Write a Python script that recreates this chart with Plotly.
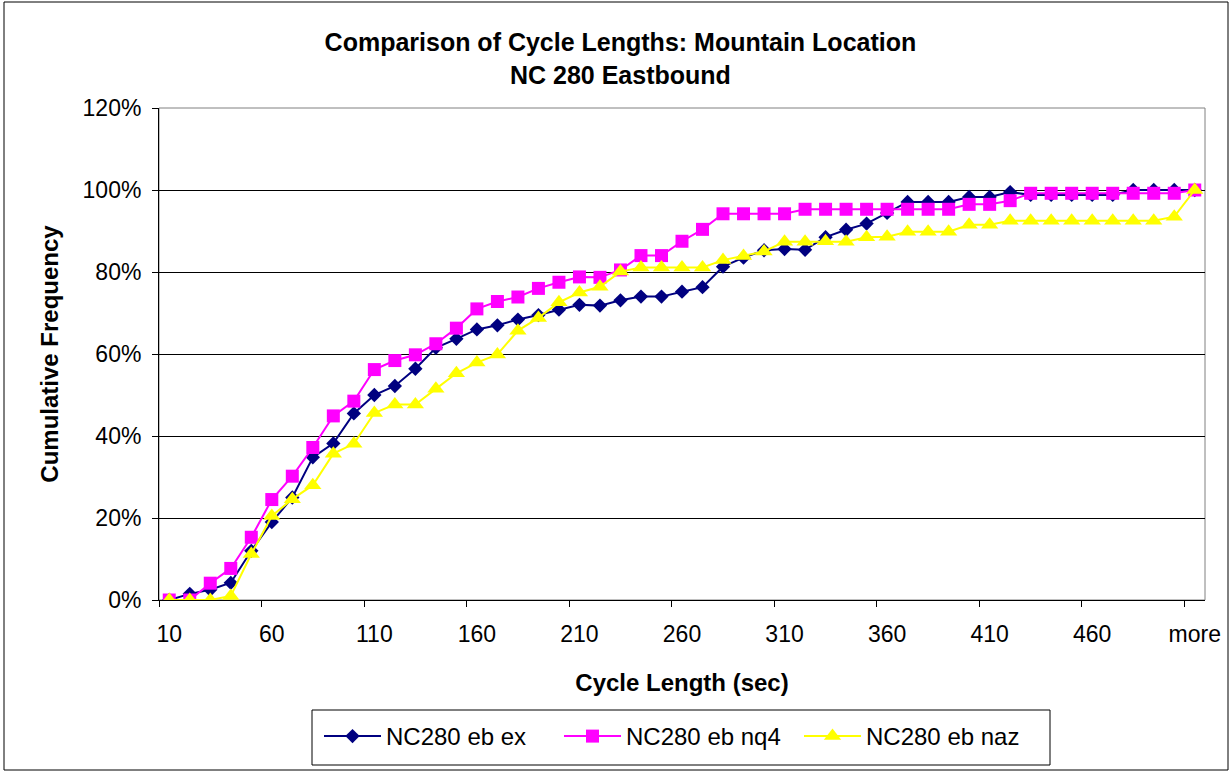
import plotly.graph_objects as go

categories = ["10", "20", "30", "40", "50", "60", "70", "80", "90", "100",
              "110", "120", "130", "140", "150", "160", "170", "180", "190", "200",
              "210", "220", "230", "240", "250", "260", "270", "280", "290", "300",
              "310", "320", "330", "340", "350", "360", "370", "380", "390", "400",
              "410", "420", "430", "440", "450", "460", "470", "480", "490", "500",
              "more"]

ex = [0, 1.5, 2.5, 4.2, 12, 19, 25, 34.8, 38.2, 45.5,
      50, 52.2, 56.4, 61.5, 63.7, 66, 67, 68.4, 69.5, 70.8,
      72, 71.8, 73.1, 74, 74, 75.2, 76.3, 81.3, 83.5, 85.3,
      85.6, 85.4, 88.5, 90.3, 91.8, 94.4, 97.1, 97.1, 97.1, 98.3,
      98.3, 99.5, 98.8, 98.8, 98.8, 98.8, 98.8, 100, 100, 100,
      100]

nq4 = [0, 0, 4.1, 7.7, 15.3, 24.5, 30.2, 37.2, 44.9, 48.5,
       56.2, 58.4, 59.8, 62.5, 66.3, 71, 72.8, 73.9, 76, 77.5,
       78.8, 78.7, 80.5, 84, 84, 87.5, 90.4, 94.2, 94.2, 94.2,
       94.2, 95.3, 95.3, 95.3, 95.3, 95.3, 95.3, 95.3, 95.3, 96.5,
       96.5, 97.4, 99.2, 99.2, 99.2, 99.2, 99.2, 99.2, 99.2, 99.2,
       100]

naz = [0, 0, 0, 1, 11.2, 20.5, 24.6, 28, 35.7, 38.1,
       45.6, 47.7, 47.7, 51.5, 55.3, 57.9, 59.9, 65.7, 68.8, 72.6,
       75, 76.4, 80.1, 81.1, 81.1, 81.1, 81.1, 82.9, 83.9, 85,
       87.4, 87.4, 87.5, 87.4, 88.5, 88.6, 89.8, 89.8, 89.8, 91.5,
       91.5, 92.5, 92.5, 92.5, 92.5, 92.5, 92.5, 92.5, 92.5, 93.5,
       100]

series_names = ["NC280 eb ex", "NC280 eb nq4", "NC280 eb naz"]
y_ticks = [0, 0.2, 0.4, 0.6, 0.8, 1.0, 1.2]

FONT = "Arial, Liberation Sans, sans-serif"

fig = go.Figure()
fig.add_trace(go.Scatter(
    x=categories, y=[v / 100 for v in ex], name=series_names[0], mode="lines+markers",
    line=dict(color="#000080", width=2),
    marker=dict(symbol="diamond", size=11, color="#000080", line=dict(width=0))))
fig.add_trace(go.Scatter(
    x=categories, y=[v / 100 for v in nq4], name=series_names[1], mode="lines+markers",
    line=dict(color="#FF00FF", width=2),
    marker=dict(symbol="square", size=13, color="#FF00FF", line=dict(width=0))))
fig.add_trace(go.Scatter(
    x=categories, y=[v / 100 for v in naz], name=series_names[2], mode="lines+markers",
    line=dict(color="#FFFF00", width=2),
    marker=dict(symbol="triangle-up", size=15, color="#FFFF00", line=dict(width=0))))

W, H = 1231, 772
L, R, T, B = 159, 26, 108, 172
pw, ph = W - L - R, H - T - B

def px(xp):
    return (xp - L) / pw

def py(yp):
    return (H - B - yp) / ph

fig.update_layout(
    width=W, height=H,
    margin=dict(l=L, r=R, t=T, b=B, autoexpand=False),
    paper_bgcolor="white", plot_bgcolor="white",
    font=dict(family=FONT, color="black", size=23),
    title=dict(text="<b>Comparison of Cycle Lengths: Mountain Location<br>NC 280 Eastbound</b>",
               font=dict(family=FONT, size=25, color="black"),
               x=0.504, xref="container", xanchor="center",
               y=1 - 51 / H, yref="container", yanchor="top"),
    xaxis=dict(type="category", categoryorder="array", categoryarray=categories,
               range=[-0.5, len(categories) - 0.5],
               tickmode="linear", tick0=0, dtick=5, tickson="boundaries", tickangle=0,
               ticks="outside", ticklen=6, tickcolor="black", tickwidth=1,
               showline=True, linecolor="black", linewidth=1,
               showgrid=False, zeroline=False,
               tickfont=dict(size=23), ticklabelstandoff=13,
               title=dict(text="<b>Cycle Length (sec)</b>", font=dict(size=24), standoff=28)),
    yaxis=dict(range=[0, 1.2], tickvals=y_ticks, tickformat=".0%",
               ticks="outside", ticklen=6, tickcolor="black", tickwidth=1,
               showline=True, linecolor="black", linewidth=1,
               showgrid=True, gridcolor="black", gridwidth=1, zeroline=False,
               tickfont=dict(size=23), ticklabelstandoff=6,
               title=dict(text="<b>Cumulative Frequency</b>", font=dict(size=24), standoff=17)),
    legend=dict(orientation="h", xref="paper", x=px(679), xanchor="center",
                yref="paper", y=py(714), yanchor="top",
                borderwidth=0, bgcolor="rgba(0,0,0,0)",
                font=dict(size=24), itemwidth=57, entrywidth=168, entrywidthmode="pixels",
                traceorder="normal"),
    showlegend=True,
)

# gray plot-area border (Excel style)
fig.add_shape(type="rect", xref="x domain", yref="y domain", x0=0, x1=1, y0=0, y1=1,
              line=dict(color="#808080", width=1), layer="below")
# legend box
fig.add_shape(type="rect", xref="paper", yref="paper",
              x0=px(312), x1=px(1050), y0=py(765), y1=py(710),
              line=dict(color="black", width=1), fillcolor="white", layer="below")
# outer chart border
fig.add_shape(type="rect", xref="paper", yref="paper",
              x0=px(4), x1=px(1228), y0=py(770), y1=py(2),
              line=dict(color="black", width=1), layer="below")

fig.write_html("out.html", config={"displayModeBar": False},
               post_script="document.body.style.margin='0px';")
